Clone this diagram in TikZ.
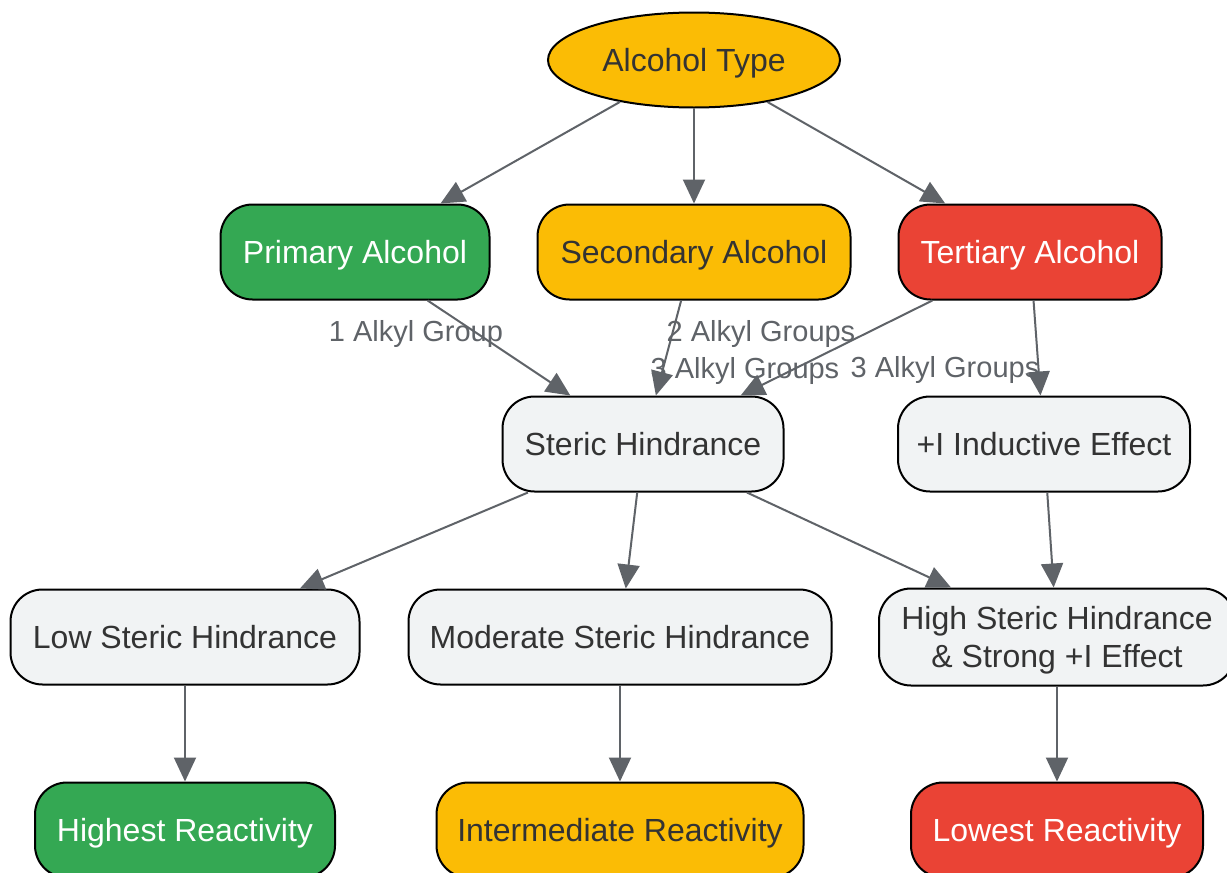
\documentclass[tikz,border=0pt]{standalone}
\usepackage{fontspec}
\setmainfont{Liberation Sans}
\usetikzlibrary{arrows.meta,shapes.geometric}
\definecolor{cgreen}{HTML}{34A853}
\definecolor{cyellow}{HTML}{FBBC05}
\definecolor{cred}{HTML}{EA4335}
\definecolor{cgray}{HTML}{F1F3F4}
\definecolor{ctext}{HTML}{333333}
\definecolor{cedge}{HTML}{5F6368}
\begin{document}
\begin{tikzpicture}[x=1pt,y=-1pt,
  box/.style={draw=black, line width=2pt, rounded corners=32pt, minimum height=95pt, inner sep=0pt, align=center, font=\fontsize{32}{38}\selectfont, text=ctext, fill=cgray, text depth=0pt},
  gbox/.style={box, fill=cgreen, text=white},
  ybox/.style={box, fill=cyellow},
  rbox/.style={box, fill=cred, text=white},
  edge/.style={draw=cedge, line width=2pt, -{Triangle[length=24pt,width=22pt]}},
  lbl/.style={text=cedge, font=\fontsize{29}{32}\selectfont, inner sep=0pt, text depth=0pt}]
\useasboundingbox (0,0) rectangle (1227,873);
\fill[white] (0,0) rectangle (1227,873);
\node[ellipse, draw=black, line width=2pt, fill=cyellow, minimum width=292pt, minimum height=95pt, inner sep=0pt, font=\fontsize{32}{38}\selectfont, text=ctext, text depth=0pt] (type) at (694,60) {Alcohol Type};
\node[gbox, minimum width=269pt] (prim) at (355,252) {Primary Alcohol};
\node[ybox, minimum width=313pt] (sec) at (694,252) {Secondary Alcohol};
\node[rbox, minimum width=263pt] (tert) at (1030,252) {Tertiary Alcohol};
\node[box, minimum width=281pt] (ster) at (643,444) {Steric Hindrance};
\node[box, minimum width=292pt] (ind) at (1044,444) {+I Inductive Effect};
\node[box, minimum width=349pt] (low) at (185,637) {Low Steric Hindrance};
\node[box, minimum width=423pt] (mod) at (620,637) {Moderate Steric Hindrance};
\node[box, minimum width=356pt, minimum height=97pt] (high) at (1057,637) {High Steric Hindrance\\\& Strong +I Effect};
\node[gbox, minimum width=300pt] (r1) at (185,830) {Highest Reactivity};
\node[ybox, minimum width=367pt] (r2) at (620,830) {Intermediate Reactivity};
\node[rbox, minimum width=292pt] (r3) at (1057,830) {Lowest Reactivity};
\node[lbl] (l1) at (416,331) {1 Alkyl Group};
\node[lbl] (l2) at (761,331) {2 Alkyl Groups};
\node[lbl] (l3) at (745,368) {3 Alkyl Groups};
\node[lbl] (l4) at (945,367) {3 Alkyl Groups};
\draw[edge] (type) -- (prim);
\draw[edge] (type) -- (sec);
\draw[edge] (type) -- (tert);
\draw[edge] (prim) -- (ster);
\draw[edge] (sec) -- (ster);
\draw[edge] (tert) -- (ster);
\draw[edge] (tert) -- (ind);
\draw[edge] (ster) -- (low);
\draw[edge] (ster) -- (mod);
\draw[edge] (ster) -- (high);
\draw[edge] (ind) -- (high);
\draw[edge] (low) -- (r1);
\draw[edge] (mod) -- (r2);
\draw[edge] (high) -- (r3);
\end{tikzpicture}
\end{document}
